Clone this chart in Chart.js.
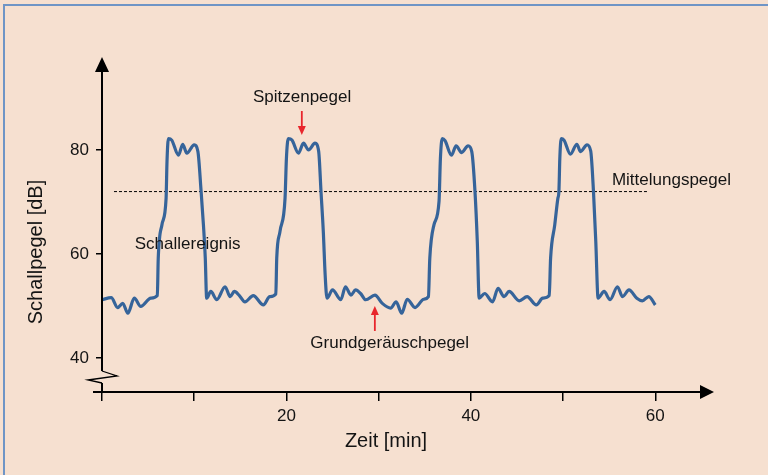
<!DOCTYPE html>
<html lang="de">
<head>
<meta charset="utf-8">
<title>Schallpegel</title>
<script src="https://cdn.jsdelivr.net/npm/chart.js@4.4.1/dist/chart.umd.min.js"></script>
<style>
    html, body { margin: 0; padding: 0; background: #f6e0d0; }
    canvas { display: block; }
</style>
</head>
<body>
<canvas id="chart-schallpegel" width="768" height="475"></canvas>
<script>
"use strict";

const timeMin = [
    0, 1.0, 1.7, 2.25, 2.8, 3.5, 4.2, 5.3, 6.0, 6.1, 6.5, 6.95, 7.05, 7.2, 7.56, 8.3, 8.75, 9.2, 10.0, 10.4,
    10.75, 11.0, 11.2, 11.35, 11.8, 12.45, 13.35, 13.9, 14.35, 14.9, 15.5, 16.4, 17.5, 18.2, 18.85,
    18.95, 19.3, 19.85, 20.0, 20.2, 20.6, 21.3, 21.85, 22.4, 23.1, 23.5, 23.75, 24.0, 24.2, 24.4,
    25.0, 25.9, 26.4, 27.0, 27.5, 28.05, 28.6, 29.6, 30.4, 31.3, 31.9, 32.5, 33.1, 33.95, 34.9, 35.4,
    35.55, 36.0, 36.55, 36.7, 36.9, 37.2, 37.9, 38.4, 39.0, 39.7, 40.1, 40.45, 40.7, 40.9,
    41.5, 42.35, 42.95, 43.6, 44.15, 45.25, 46.1, 47.1, 47.8, 48.5,
    48.65, 49.1, 49.44, 49.55, 49.65, 49.8, 50.1, 50.8, 51.5, 51.9, 52.6, 53.0, 53.3, 53.55, 53.8,
    54.45, 55.1, 55.9, 56.45, 57.15, 58.0, 58.6, 59.3, 60.0
];
const levelDb = [
    51.2, 51.6, 49.7, 50.5, 48.6, 51.5, 49.9, 51.5, 52.0, 59.2, 65.6, 70.7, 77.8, 82.2, 81.9, 79.0, 81.1, 79.4, 81.0, 79.7,
    72.0, 65.6, 59.2, 51.5, 52.8, 51.2, 53.7, 51.8, 52.8, 52.0, 50.8, 52.0, 50.2, 51.8, 52.3,
    59.2, 64.3, 70.7, 78.4, 82.2, 81.9, 79.4, 81.3, 80.0, 81.3, 79.7, 72.0, 64.3, 56.0, 51.5,
    53.1, 51.2, 53.7, 52.1, 53.1, 52.4, 51.2, 52.1, 50.5, 49.6, 50.8, 48.6, 51.3, 49.7, 51.3, 51.8,
    59.2, 65.6, 70.1, 78.4, 82.2, 81.8, 79.0, 80.8, 79.5, 80.8, 79.7, 72.0, 62.4, 51.5,
    52.4, 50.8, 53.4, 51.8, 52.8, 51.0, 51.8, 50.2, 51.5, 52.0,
    59.2, 65.6, 70.7, 72.0, 78.4, 82.2, 81.9, 79.2, 81.1, 79.7, 81.0, 79.8, 72.0, 62.4, 51.5,
    52.8, 51.2, 53.7, 51.8, 53.1, 51.5, 51.0, 51.8, 50.2
];

// Mittelungspegel
const meanLevel = 72;
const meanSpan = [1.3, 59.1];

// Achsen
const xTicks = [0, 10, 20, 30, 40, 50, 60];
const xLabels = [20, 40, 60];
const yTicks = [40, 60, 80];

const FONT = "'Liberation Sans', Arial, sans-serif";
const INK = "#141414";
const LINE_BLUE = "#36649a";
const ARROW_RED = "#e8262c";

// Beschriftungen im Diagramm (Datenkoordinaten)
const notes = [
    { text: "Spitzenpegel", x: 21.7, y: 90.2, align: "center" },
    { text: "Mittelungspegel", x: 55.3, y: 74.2, align: "left" },
    { text: "Schallereignis", x: 3.55, y: 61.9, align: "left" },
    { text: "Grundgeräuschpegel", x: 31.2, y: 42.9, align: "center" }
];
const redArrows = [
    { x: 21.67, from: 87.5, to: 82.9 },
    { x: 29.59, from: 45.2, to: 50.0 }
];

const drawArrowHead = (ctx, tx, ty, dx, dy, len, half) => {
    // tip at (tx,ty), direction (dx,dy) unit vector
    const bx = tx - dx * len, by = ty - dy * len;
    ctx.beginPath();
    ctx.moveTo(tx, ty);
    ctx.lineTo(bx - dy * half, by + dx * half);
    ctx.lineTo(bx + dy * half, by - dx * half);
    ctx.closePath();
    ctx.fill();
};

const framePlugin = {
    id: "frame",
    beforeDraw(chart) {
        const ctx = chart.ctx;
        ctx.save();
        ctx.fillStyle = "#f6e0d0";
        ctx.fillRect(0, 0, chart.width, chart.height);
        ctx.strokeStyle = "#6f95c6";
        ctx.lineWidth = 2;
        ctx.strokeRect(4, 5, chart.width + 20, chart.height + 20);
        ctx.restore();
    },
    afterDraw(chart) {
        const ctx = chart.ctx;
        const { left, right, top, bottom } = chart.chartArea;
        const xs = chart.scales.x, ys = chart.scales.y;
        ctx.save();

        // Achsen mit Pfeilen
        ctx.strokeStyle = "#000";
        ctx.fillStyle = "#000";
        ctx.lineWidth = 2;
        ctx.beginPath();
        ctx.moveTo(left, top + 12);
        ctx.lineTo(left, bottom - 21);
        ctx.moveTo(left, bottom - 9);
        ctx.lineTo(left, bottom);
        ctx.moveTo(left - 9, bottom);
        ctx.lineTo(right - 12, bottom);
        ctx.stroke();

        // Achsenbruch
        ctx.lineWidth = 1.3;
        ctx.beginPath();
        ctx.moveTo(left, bottom - 21);
        ctx.lineTo(left + 15, bottom - 16);
        ctx.lineTo(left - 14, bottom - 12);
        ctx.lineTo(left, bottom - 9);
        ctx.stroke();

        drawArrowHead(ctx, left, top, 0, -1, 15, 7);
        drawArrowHead(ctx, right, bottom, 1, 0, 14, 7);

        // Achsentitel
        ctx.fillStyle = INK;
        ctx.font = "20px " + FONT;
        ctx.textAlign = "center";
        ctx.textBaseline = "middle";
        ctx.fillText("Zeit [min]", 386, 441);
        ctx.save();
        ctx.translate(36, 252);
        ctx.rotate(-Math.PI / 2);
        ctx.fillText("Schallpegel [dB]", 0, 0);
        ctx.restore();

        // Beschriftungen
        ctx.font = "17px " + FONT;
        notes.forEach(n => {
            ctx.textAlign = n.align;
            ctx.fillText(n.text, xs.getPixelForValue(n.x), ys.getPixelForValue(n.y));
        });

        // rote Pfeile
        ctx.strokeStyle = ARROW_RED;
        ctx.fillStyle = ARROW_RED;
        ctx.lineWidth = 1.8;
        redArrows.forEach(a => {
            const px = xs.getPixelForValue(a.x);
            const y0 = ys.getPixelForValue(a.from);
            const y1 = ys.getPixelForValue(a.to);
            const dir = y1 > y0 ? 1 : -1;
            ctx.beginPath();
            ctx.moveTo(px, y0);
            ctx.lineTo(px, y1 - dir * 6);
            ctx.stroke();
            drawArrowHead(ctx, px, y1, 0, dir, 9, 4);
        });

        ctx.restore();
    }
};

const points = timeMin.map((t, i) => ({ x: t, y: levelDb[i] }));
const meanLine = meanSpan.map(t => ({ x: t, y: meanLevel }));

new Chart(document.getElementById("chart-schallpegel").getContext("2d"), {
    type: "line",
    data: {
        datasets: [
            {
                data: points,
                borderColor: LINE_BLUE,
                borderWidth: 3.2,
                pointRadius: 0,
                cubicInterpolationMode: "monotone",
                fill: false
            },
            {
                data: meanLine,
                borderColor: "#000",
                borderWidth: 1,
                borderDash: [3, 2],
                pointRadius: 0,
                fill: false
            }
        ]
    },
    options: {
        responsive: false,
        animation: false,
        events: [],
        layout: { padding: { top: 57, right: 54, left: 0, bottom: 0 } },
        plugins: { legend: { display: false }, tooltip: { enabled: false } },
        scales: {
            x: {
                type: "linear",
                min: 0,
                max: 66.37,
                afterBuildTicks: s => { s.ticks = xTicks.map(v => ({ value: v })); },
                afterFit: s => { s.height = 83; },
                ticks: {
                    autoSkip: false,
                    maxRotation: 0,
                    padding: 5,
                    color: INK,
                    font: { family: FONT, size: 17 },
                    callback: v => xLabels.includes(v) ? String(v) : ""
                },
                grid: { drawOnChartArea: false, drawTicks: true, tickLength: 9, color: "#000", lineWidth: 1.5 },
                border: { display: false }
            },
            y: {
                type: "linear",
                min: 33.46,
                max: 97.88,
                afterBuildTicks: s => { s.ticks = yTicks.map(v => ({ value: v })); },
                afterFit: s => { s.width = 102; },
                ticks: {
                    padding: 7,
                    color: INK,
                    font: { family: FONT, size: 17 }
                },
                grid: { drawOnChartArea: false, drawTicks: true, tickLength: 6, color: "#000", lineWidth: 1.5 },
                border: { display: false }
            }
        }
    },
    plugins: [framePlugin]
});
</script>
</body>
</html>
